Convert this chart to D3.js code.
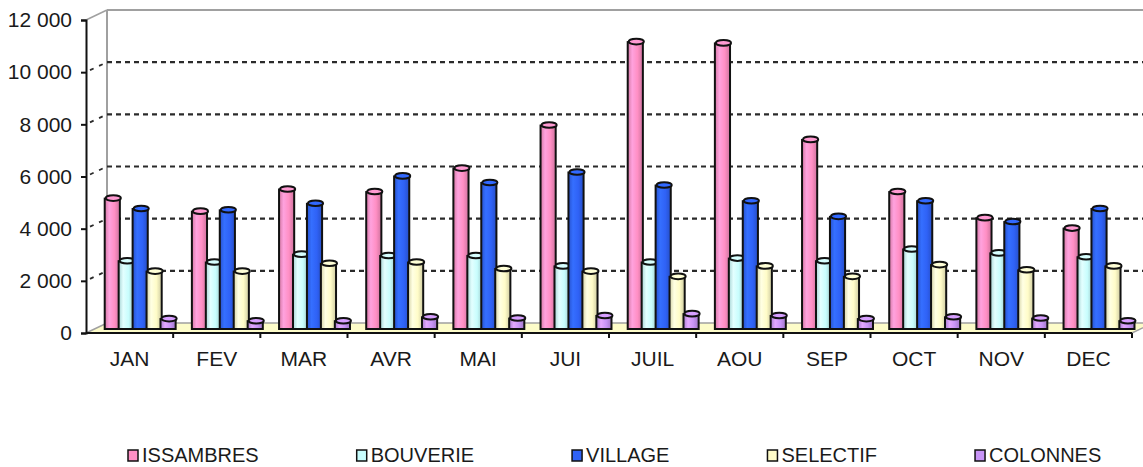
<!DOCTYPE html>
<html>
<head>
<meta charset="utf-8">
<script src="https://cdn.jsdelivr.net/npm/d3@7"></script>
<style>
  body { margin: 0; background: #fff; }
  text { font-family: Arial, "Liberation Sans", sans-serif; fill: #1a1a1a; }
</style>
</head>
<body>
<div id="chart"></div>
<script>
// data
const months = ["JAN", "FEV", "MAR", "AVR", "MAI", "JUI", "JUIL", "AOU", "SEP", "OCT", "NOV", "DEC"];
const series = ["ISSAMBRES", "BOUVERIE", "VILLAGE", "SELECTIF", "COLONNES"];
const issambres = [5000, 4500, 5350, 5250, 6150, 7800, 11000, 10950, 7250, 5250, 4250, 3850];
const bouverie  = [2600, 2550, 2850, 2800, 2800, 2400, 2550, 2700, 2600, 3050, 2900, 2750];
const village   = [4600, 4550, 4800, 5850, 5600, 6000, 5500, 4900, 4300, 4900, 4100, 4600];
const selectif  = [2200, 2200, 2500, 2550, 2300, 2200, 2000, 2400, 2000, 2450, 2250, 2400];
const colonnes  = [380, 300, 300, 450, 400, 500, 570, 500, 380, 450, 400, 300];
const yTicks = [0, 2000, 4000, 6000, 8000, 10000, 12000];

const values = [issambres, bouverie, village, selectif, colonnes];
const colors = ["#ff8fc4", "#c8fdfd", "#2f62f6", "#fffcc8", "#c894f6"];

const W = 1143, H = 467;
const depth = { dx: 21, dy: -10 };   // back wall offset
const barOff = { dx: 10, dy: -4 };   // bars sit half way in

const svg = d3.select("#chart").append("svg")
  .attr("width", W).attr("height", H);

const y = d3.scaleLinear().domain([0, 12000]).range([333, 20]);
const x = d3.scaleBand().domain(months).range([86, 1132]).paddingInner(0.2).paddingOuter(0.1);
const xs = d3.scaleBand().domain(series).range([0, x.bandwidth()]);

const fmt = v => d3.format(",")(v).replace(",", " ");

// gradients for the cylinder look
const defs = svg.append("defs");
colors.forEach((c, i) => {
  const g = defs.append("linearGradient").attr("id", "grad" + i)
    .attr("x1", "0%").attr("x2", "100%").attr("y1", "0%").attr("y2", "0%");
  g.append("stop").attr("offset", "0%").attr("stop-color", d3.color(c).darker(0.5));
  g.append("stop").attr("offset", "30%").attr("stop-color", d3.color(c).brighter(0.35));
  g.append("stop").attr("offset", "65%").attr("stop-color", c);
  g.append("stop").attr("offset", "100%").attr("stop-color", d3.color(c).darker(0.6));
});

const x0 = 86, x1 = 1132, yb = y(0);

// back wall frame
svg.append("line").attr("x1", x0 + depth.dx).attr("x2", W + 5)
  .attr("y1", y(12000) + depth.dy).attr("y2", y(12000) + depth.dy)
  .attr("stroke", "#a0a0a0").attr("stroke-width", 2);
svg.append("line").attr("x1", x0 + depth.dx).attr("x2", x0 + depth.dx)
  .attr("y1", y(12000) + depth.dy).attr("y2", yb + depth.dy)
  .attr("stroke", "#a0a0a0").attr("stroke-width", 2);
svg.append("line").attr("x1", x0).attr("x2", x0 + depth.dx)
  .attr("y1", y(12000)).attr("y2", y(12000) + depth.dy)
  .attr("stroke", "#a0a0a0").attr("stroke-width", 1.5);

// gridlines on the back wall and side
const grid = yTicks.filter(v => v > 0 && v < 12000);
svg.append("g").selectAll("line").data(grid).join("line")
  .attr("x1", x0 + depth.dx).attr("x2", W + 5)
  .attr("y1", d => y(d) + depth.dy).attr("y2", d => y(d) + depth.dy)
  .attr("stroke", "#2a2a2a").attr("stroke-width", 2.2).attr("stroke-dasharray", "5,4");
svg.append("g").selectAll("line").data(grid).join("line")
  .attr("x1", x0 + 4).attr("x2", x0 + depth.dx)
  .attr("y1", d => y(d) - 2).attr("y2", d => y(d) + depth.dy)
  .attr("stroke", "#2a2a2a").attr("stroke-width", 1.8).attr("stroke-dasharray", "4,6");

// floor
svg.append("polygon")
  .attr("points", [[x0, yb], [x1, yb], [x1 + depth.dx, yb + depth.dy], [x0 + depth.dx, yb + depth.dy]].join(" "))
  .attr("fill", "#fdfcc9").attr("stroke", "#a0a0a0").attr("stroke-width", 1.5);

// bars
months.forEach((m, mi) => {
  series.forEach((s, si) => {
    const v = values[si][mi];
    const bw = xs.bandwidth() + 1.2;
    const bx = x(m) + xs(s) + barOff.dx;
    const top = y(v) + barOff.dy;
    const bottom = yb + barOff.dy;
    const g = svg.append("g");
    g.append("rect")
      .attr("x", bx).attr("y", top).attr("width", bw).attr("height", bottom - top)
      .attr("fill", "url(#grad" + si + ")").attr("stroke", "#111").attr("stroke-width", 2);
    g.append("ellipse")
      .attr("cx", bx + bw / 2 + 1).attr("cy", top - 0.5)
      .attr("rx", bw / 2).attr("ry", 2.8)
      .attr("fill", d3.color(colors[si]).brighter(0.2)).attr("stroke", "#111").attr("stroke-width", 2);
  });
});

// y axis
svg.append("g")
  .attr("transform", `translate(${x0},0)`)
  .call(d3.axisLeft(y).tickValues(yTicks).tickFormat(fmt).tickSize(5).tickPadding(9))
  .call(g => g.select(".domain").attr("stroke", "#111").attr("stroke-width", 2))
  .call(g => g.selectAll(".tick line").attr("stroke", "#111").attr("stroke-width", 2))
  .call(g => g.selectAll("text").style("font-size", "21px").attr("fill", "#1a1a1a"));

// x axis: labels centred on bands, ticks at band edges
svg.append("g")
  .attr("transform", `translate(0,${yb})`)
  .call(d3.axisBottom(x).tickSize(0).tickPadding(18))
  .call(g => g.select(".domain").remove())
  .call(g => g.selectAll("text").style("font-size", "21px").attr("fill", "#1a1a1a"));
svg.append("line").attr("x1", x0).attr("x2", x1).attr("y1", yb).attr("y2", yb)
  .attr("stroke", "#111").attr("stroke-width", 2);
svg.append("g").selectAll("line").data(months).join("line")
  .attr("x1", d => x(d) - x.step() * 0.1 + x.step())
  .attr("x2", d => x(d) - x.step() * 0.1 + x.step())
  .attr("y1", yb).attr("y2", yb + 5)
  .attr("stroke", "#111").attr("stroke-width", 2);

// legend
const legend = svg.append("g");
let lx = 128;
series.forEach((s, i) => {
  legend.append("rect")
    .attr("x", lx).attr("y", 450).attr("width", 10).attr("height", 11)
    .attr("fill", colors[i]).attr("stroke", "#111").attr("stroke-width", 1.5);
  const t = legend.append("text")
    .attr("x", lx + 14).attr("y", 462)
    .style("font-size", "20px")
    .text(s);
  lx += 14 + t.node().getComputedTextLength() + 98;
});
</script>
</body>
</html>
